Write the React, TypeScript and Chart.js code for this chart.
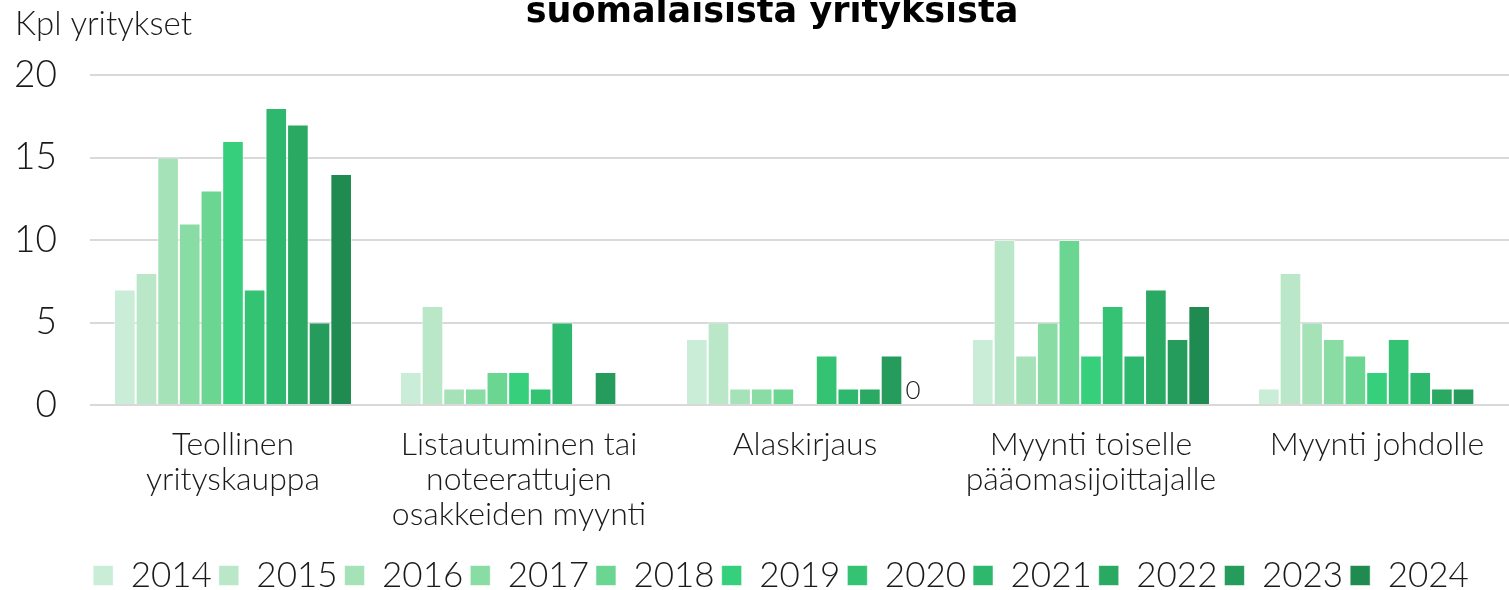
import React, { useEffect, useRef } from 'react';
import { Chart, registerables } from 'chart.js';

Chart.register(...registerables);

const categories: string[][] = [
  ['Teollinen', 'yrityskauppa'],
  ['Listautuminen tai', 'noteerattujen', 'osakkeiden myynti'],
  ['Alaskirjaus'],
  ['Myynti toiselle', 'pääomasijoittajalle'],
  ['Myynti johdolle'],
];

const years = ['2014', '2015', '2016', '2017', '2018', '2019', '2020', '2021', '2022', '2023', '2024'];

const v2014 = [7, 2, 4, 4, 1];
const v2015 = [8, 6, 5, 10, 8];
const v2016 = [15, 1, 1, 3, 5];
const v2017 = [11, 1, 1, 5, 4];
const v2018 = [13, 2, 1, 10, 3];
const v2019 = [16, 2, 0, 3, 2];
const v2020 = [7, 1, 3, 6, 4];
const v2021 = [18, 5, 1, 3, 2];
const v2022 = [17, 0, 1, 7, 1];
const v2023 = [5, 2, 3, 4, 1];
const v2024 = [14, 0, 0, 6, 0];

const seriesValues = [v2014, v2015, v2016, v2017, v2018, v2019, v2020, v2021, v2022, v2023, v2024];

const colors = [
  '#c9edd7', '#b9e7c8', '#a5e2b8', '#8adca5', '#6bd592', '#36d07d',
  '#33c373', '#2eb86d', '#29a962', '#259c5c', '#208b51',
];

const yTicks = [0, 5, 10, 15, 20];

const titleText = 'suomalaisista yrityksistä';
const yAxisTitle = 'Kpl yritykset';
// value label shown in the reference: year 2024, category index 2 (Alaskirjaus)
const labelYear = '2024';
const labelCategoryIndex = 2;

const FONT = 'Lato, "Noto Sans", sans-serif';
const TEXT = '#1a1a1a';
const W = 1520;
const H = 603;

export default function App() {
  const ref = useRef<HTMLCanvasElement>(null);

  useEffect(() => {
    const textPlugin = {
      id: 'texts',
      beforeDraw(chart: any) {
        const lg = chart.legend;
        if (lg) {
          lg.left = 42;
          lg.right = chart.width;
          lg.width = lg.right - lg.left;
        }
      },
      afterDraw(chart: any) {
        const ctx = chart.ctx;
        ctx.save();
        ctx.fillStyle = '#000';
        ctx.font = `bold 35px "DejaVu Sans", ${FONT}`;
        ctx.textAlign = 'center';
        ctx.textBaseline = 'alphabetic';
        ctx.fillText(titleText, 772, 22);

        ctx.fillStyle = TEXT;
        ctx.font = `300 33px ${FONT}`;
        ctx.textAlign = 'left';
        ctx.fillText(yAxisTitle, 15, 35);

        const dsIndex = years.indexOf(labelYear);
        const meta = chart.getDatasetMeta(dsIndex);
        const el = meta.data[labelCategoryIndex];
        if (el) {
          ctx.font = `300 26px ${FONT}`;
          ctx.textAlign = 'center';
          ctx.textBaseline = 'bottom';
          ctx.fillText(String(seriesValues[dsIndex][labelCategoryIndex]), el.x, el.y - 1);
        }
        ctx.restore();
      },
    };

    const chart = new Chart(ref.current!, {
      type: 'bar',
      data: {
        labels: categories,
        datasets: years.map((y, i) => ({
          label: y,
          data: seriesValues[i],
          backgroundColor: colors[i],
          borderColor: 'rgba(255,255,255,0.55)',
          borderWidth: 1,
          categoryPercentage: 0.832,
          barPercentage: 1,
        })),
      },
      options: {
        responsive: false,
        animation: false,
        layout: { padding: { left: 0, top: 75, right: 0, bottom: 0 } },
        plugins: {
          title: { display: false },
          tooltip: { enabled: false },
          legend: {
            position: 'bottom',
            labels: {
              boxWidth: 20,
              boxHeight: 20,
              padding: 7,
              color: TEXT,
              font: { family: FONT, size: 35, weight: '300' as any },
            },
          },
        },
        scales: {
          x: {
            grid: { display: false },
            border: { display: false },
            ticks: {
              color: TEXT,
              padding: 14,
              maxRotation: 0,
              autoSkip: false,
              font: { family: FONT, size: 32, weight: '300' as any, lineHeight: 1.1 },
            },
            afterFit: (s: any) => { s.height = 146; },
          },
          y: {
            min: 0,
            max: 20,
            afterBuildTicks: (s: any) => { s.ticks = yTicks.map((v) => ({ value: v })); },
            grid: { color: '#d9d9d9', lineWidth: 2, drawTicks: false },
            border: { display: false },
            ticks: {
              color: TEXT,
              padding: 33,
              font: { family: FONT, size: 37, weight: '300' as any },
            },
            afterFit: (s: any) => { s.width = 90; },
          },
        },
      },
      plugins: [textPlugin],
    });
    return () => chart.destroy();
  }, []);

  return (
    <div style={{ position: 'fixed', top: 0, left: 0, width: W, height: H, background: '#fff' }}>
      <canvas ref={ref} width={W} height={H} style={{ width: W, height: H, display: 'block' }} />
    </div>
  );
}
